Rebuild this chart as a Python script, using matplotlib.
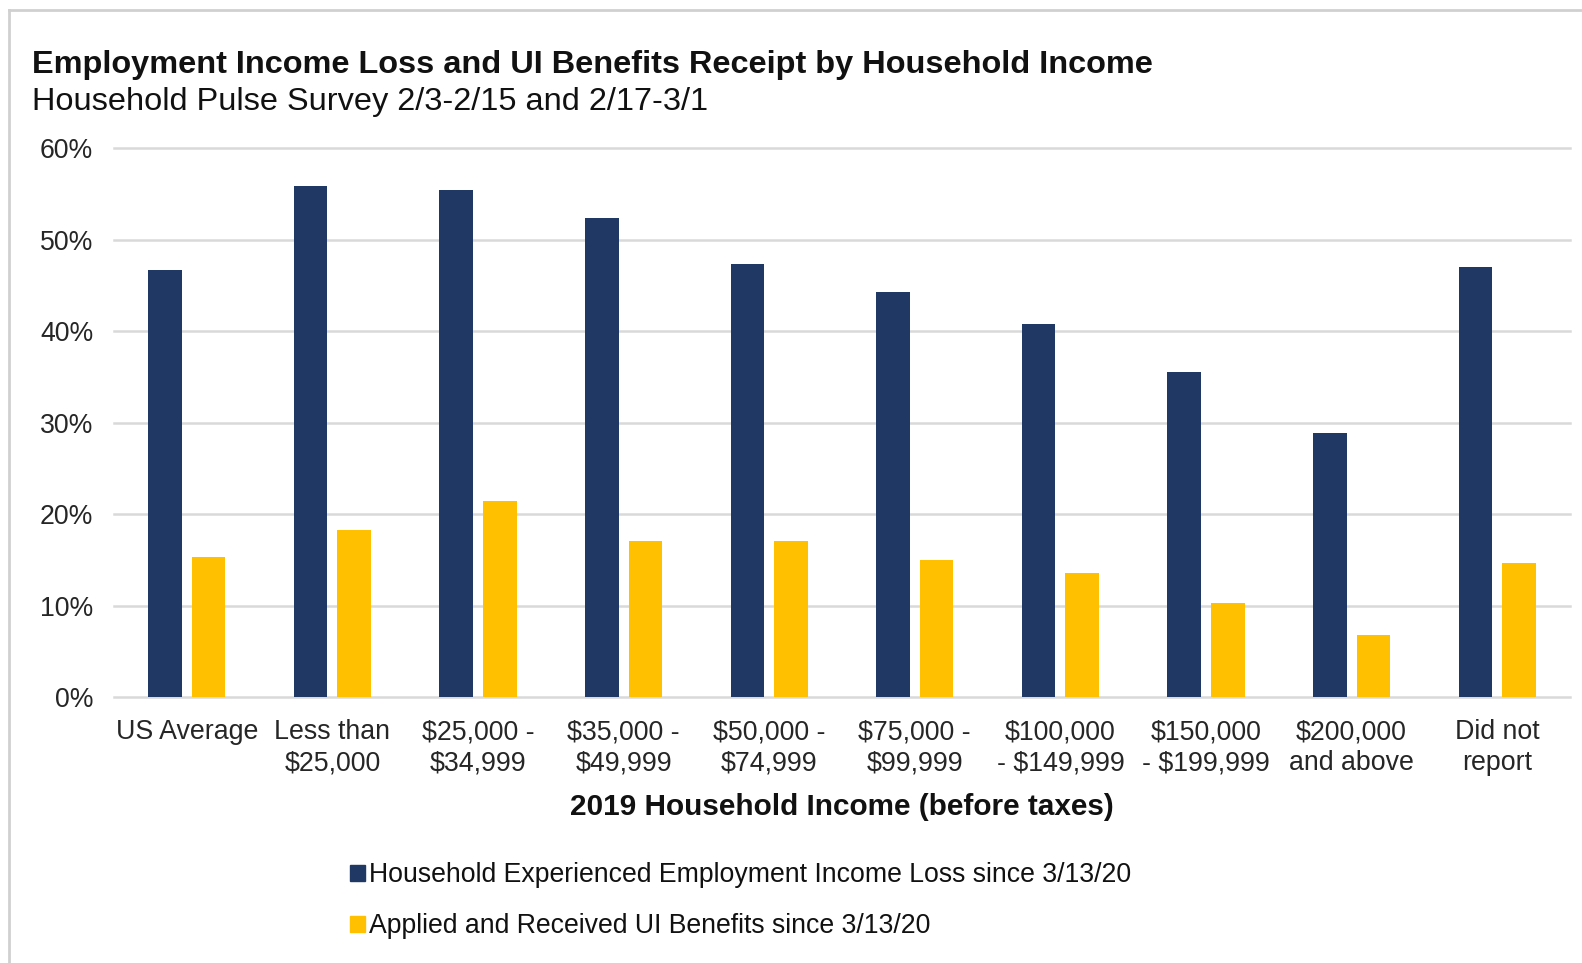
import numpy as np
import matplotlib.pyplot as plt
from matplotlib.lines import Line2D
from matplotlib.patches import Patch

plt.rcParams['font.family'] = ['Liberation Sans', 'DejaVu Sans']

categories = ["US Average", "Less than\n$25,000", "$25,000 -\n$34,999", "$35,000 -\n$49,999",
              "$50,000 -\n$74,999", "$75,000 -\n$99,999", "$100,000\n- $149,999",
              "$150,000\n- $199,999", "$200,000\nand above", "Did not\nreport"]
income_loss = [46.7, 55.8, 55.4, 52.3, 47.3, 44.3, 40.8, 35.5, 28.8, 47.0]
ui_benefits = [15.3, 18.3, 21.4, 17.0, 17.0, 15.0, 13.5, 10.3, 6.8, 14.6]
yticks = [0, 10, 20, 30, 40, 50, 60]

navy = "#1f3864"
gold = "#ffc000"
grid = "#d9d9d9"

fig = plt.figure(figsize=(15.82, 9.63), dpi=100)
ax = fig.add_axes([114 / 1582, 266 / 963, 1456 / 1582, 549 / 963])

x = np.arange(len(categories))
ax.bar(x - 0.15, income_loss, width=0.23, color=navy, zorder=3)
ax.bar(x + 0.15, ui_benefits, width=0.23, color=gold, zorder=3)

ax.set_xlim(-0.5, len(categories) - 0.5)
ax.set_ylim(0, 60)
ax.set_yticks(yticks)
ax.set_yticklabels([f"{t}%" for t in yticks], fontsize=19.2, color="#262626")
ax.set_xticks(x)
ax.set_xticklabels(categories, fontsize=19.3, color="#262626", linespacing=1.25)
ax.tick_params(length=0)
ax.tick_params(axis='x', pad=16)
ax.tick_params(axis='y', pad=15)
for t in yticks:
    ax.axhline(t, color=grid, linewidth=1.8, zorder=0, clip_on=False)
for s in ax.spines.values():
    s.set_visible(False)

ax.set_xlabel("2019 Household Income (before taxes)", fontsize=21.4, fontweight="bold",
              color="#111111", labelpad=12)

fig.text(32 / 1582, 1 - 65 / 963, "Employment Income Loss and UI Benefits Receipt by Household Income",
         fontsize=23.4, fontweight="bold", color="#111111", va="center")
fig.text(32 / 1582, 1 - 102 / 963, "Household Pulse Survey 2/3-2/15 and 2/17-3/1",
         fontsize=23.4, color="#111111", va="center")

handles = [Patch(color=navy, label="Household Experienced Employment Income Loss since 3/13/20"),
           Patch(color=gold, label="Applied and Received UI Benefits since 3/13/20")]
fig.legend(handles=handles, loc="upper left", bbox_to_anchor=(326 / 1582, 1 - 838 / 963),
           frameon=False, fontsize=19.2, handlelength=0.55, handleheight=0.55,
           handletextpad=0.15, labelspacing=0.95, labelcolor="#111111")

# light frame around the chart
fig.add_artist(Line2D([9 / 1582, 1], [1 - 10 / 963] * 2, color="#d0d0d0", linewidth=2,
                      transform=fig.transFigure))
fig.add_artist(Line2D([9 / 1582] * 2, [0, 1 - 10 / 963], color="#d0d0d0", linewidth=2,
                      transform=fig.transFigure))

fig.savefig("out.png", dpi=100)
